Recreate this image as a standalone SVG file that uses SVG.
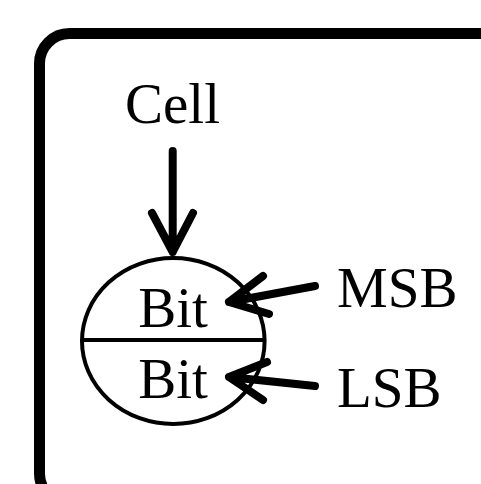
<svg xmlns="http://www.w3.org/2000/svg" width="481" height="484" viewBox="0 0 481 484">
<style>
.t{font-family:"Liberation Serif","Times New Roman",serif;font-size:57px;fill:#000}
.c{fill:none;stroke:#000;stroke-width:8;stroke-linecap:round;stroke-linejoin:round}
</style>
<rect width="481" height="484" fill="#fff"/>
<g id="frame"><rect x="39.5" y="33.5" width="470" height="470" rx="30" fill="none" stroke="#000" stroke-width="11"/></g>
<g id="cell"><text class="t" x="125" y="123">Cell</text></g>
<g id="bits">
<ellipse cx="173.3" cy="341" rx="91.3" ry="83" fill="none" stroke="#000" stroke-width="4"/>
<line x1="82" y1="340" x2="264" y2="340" stroke="#000" stroke-width="4"/>
<text class="t" x="173" y="327" text-anchor="middle">Bit</text>
<text class="t" x="173" y="398" text-anchor="middle">Bit</text>
</g>
<g id="msb"><text class="t" x="337" y="307">MSB</text></g>
<g id="lsb"><text class="t" x="337" y="407">LSB</text></g>
<g id="connectors">
<path class="c" d="M172.7 151V252M152 213L172.7 252L193 213"/>
<path class="c" d="M315 286L229 302M263 276L229 302L269 314"/>
<path class="c" d="M315 386L229 377M267 362L229 377L263 400"/>
</g>
</svg>
